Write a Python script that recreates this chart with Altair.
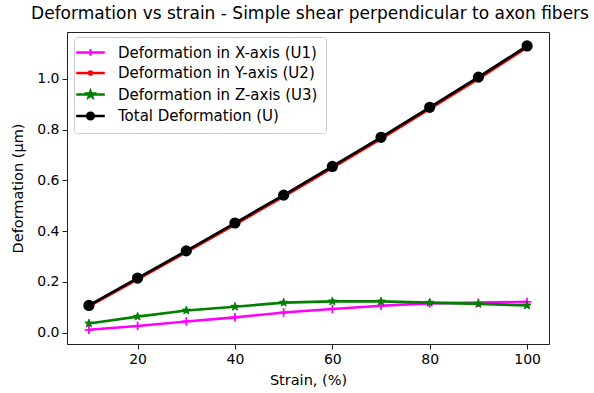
import math
import altair as alt
import pandas as pd

# ---- data ----
strain = [10, 20, 30, 40, 50, 60, 70, 80, 90, 100]
u1 = [0.011, 0.026, 0.044, 0.060, 0.079, 0.093, 0.106, 0.115, 0.118, 0.121]
u2 = [0.103, 0.210, 0.317, 0.426, 0.536, 0.649, 0.764, 0.882, 1.000, 1.124]
u3 = [0.036, 0.063, 0.087, 0.102, 0.118, 0.123, 0.123, 0.118, 0.113, 0.107]
u = [0.107, 0.215, 0.322, 0.432, 0.542, 0.655, 0.770, 0.888, 1.007, 1.130]

series_names = [
    "Deformation in X-axis (U1)",
    "Deformation in Y-axis (U2)",
    "Deformation in Z-axis (U3)",
    "Total Deformation (U)",
]
series_values = [u1, u2, u3, u]
series_colors = ["#ff00ff", "#ff0000", "#008000", "#000000"]
x_ticks = [20, 40, 60, 80, 100]
y_ticks = [0.0, 0.2, 0.4, 0.6, 0.8, 1.0]

rows = []
for name, vals in zip(series_names, series_values):
    for s, v in zip(strain, vals):
        rows.append({"series": name, "strain": s, "value": v})
df = pd.DataFrame(rows)

FONT = "DejaVu Sans"


def star(r_out, r_in, cx=0.0):
    pts = []
    for k in range(10):
        r = r_out if k % 2 == 0 else r_in
        a = -math.pi / 2 + k * math.pi / 5
        pts.append((cx + r * math.cos(a), r * math.sin(a)))
    return "M" + "L".join(f"{x:.3f},{y:.3f}" for x, y in pts) + "Z"


def circle(r):
    return (f"M{-r},0A{r},{r},0,1,1,{r},0A{r},{r},0,1,1,{-r},0Z")


LINE = "M-2.6,0L2.6,0"
legend_shapes = [
    LINE + "M-0.6,0L0.6,0M0,-0.6L0,0.6",
    LINE + circle(0.3),
    LINE + star(0.62, 0.25),
    LINE + circle(0.62),
]

xscale = alt.Scale(domain=[5.5, 104.5], nice=False, zero=False)
yscale = alt.Scale(domain=[-0.045, 1.185], nice=False, zero=False)

xenc = alt.X("strain:Q", scale=xscale,
             axis=alt.Axis(values=x_ticks, title="Strain, (%)", format="d"))
yenc = alt.Y("value:Q", scale=yscale,
             axis=alt.Axis(values=y_ticks, title="Deformation (µm)", format=".1f"))

point_styles = [
    dict(shape="M-1,0L1,0M0,-1L0,1", size=72, filled=False, strokeWidth=1.8),
    dict(shape="circle", size=20, filled=True),
    dict(shape=star(1.0, 0.4), size=75, filled=True, strokeWidth=1),
    dict(shape="circle", size=85, filled=True),
]

layers = []
for name, col, ps in zip(series_names, series_colors, point_styles):
    base = alt.Chart(df).transform_filter(alt.datum.series == name)
    layers.append(base.mark_line(color=col, strokeWidth=2.6).encode(x=xenc, y=yenc))
    extra = dict(ps)
    layers.append(
        base.mark_point(color=col, stroke=col, opacity=1, **extra).encode(x=xenc, y=yenc)
    )

legend = alt.Legend(
    title=None,
    orient="none",
    legendX=7,
    legendY=5,
    padding=8,
    rowPadding=4.5,
    symbolOffset=1,
    labelOffset=20,
    symbolStrokeWidth=2.4,
    labelFont=FONT,
    labelFontSize=15,
    labelColor="#000",
    fillColor="rgba(255,255,255,0.8)",
    strokeColor="#cccccc",
    cornerRadius=3,
    symbolSize=121,
    labelLimit=400,
)

leg_layer = (
    alt.Chart(df)
    .transform_filter("false")
    .mark_point(opacity=1, strokeWidth=2.4)
    .encode(
        fill=alt.Fill("series:N", scale=alt.Scale(domain=series_names, range=series_colors), legend=legend),
        stroke=alt.Stroke("series:N", scale=alt.Scale(domain=series_names, range=series_colors), legend=legend),
        shape=alt.Shape("series:N", scale=alt.Scale(domain=series_names, range=legend_shapes), legend=legend),
    )
)

chart = (
    alt.layer(*layers, leg_layer)
    .properties(
        width=482,
        height=312,
        padding={"left": 67, "top": 32, "right": 45, "bottom": 49},
        autosize=alt.AutoSizeParams(type="none"),
        title=alt.TitleParams(
            "Deformation vs strain - Simple shear perpendicular to axon fibers",
            font=FONT, fontSize=17, fontWeight="normal", color="#000",
            anchor="middle", offset=9, dx=2,
        ),
        background="white",
    )
    .configure_view(stroke="#222", strokeWidth=1)
    .configure_axis(
        grid=False,
        labelFont=FONT, titleFont=FONT,
        labelFontSize=14, titleFontSize=14.5,
        labelColor="#000", titleColor="#000",
        titleFontWeight="normal",
        tickColor="#222", domainColor="#222",
        tickSize=5, labelPadding=3,
    )
    .configure_axisX(titlePadding=7)
    .configure_axisY(titlePadding=11)
)

chart.save("out.html", embed_options={"renderer": "svg", "actions": False})
